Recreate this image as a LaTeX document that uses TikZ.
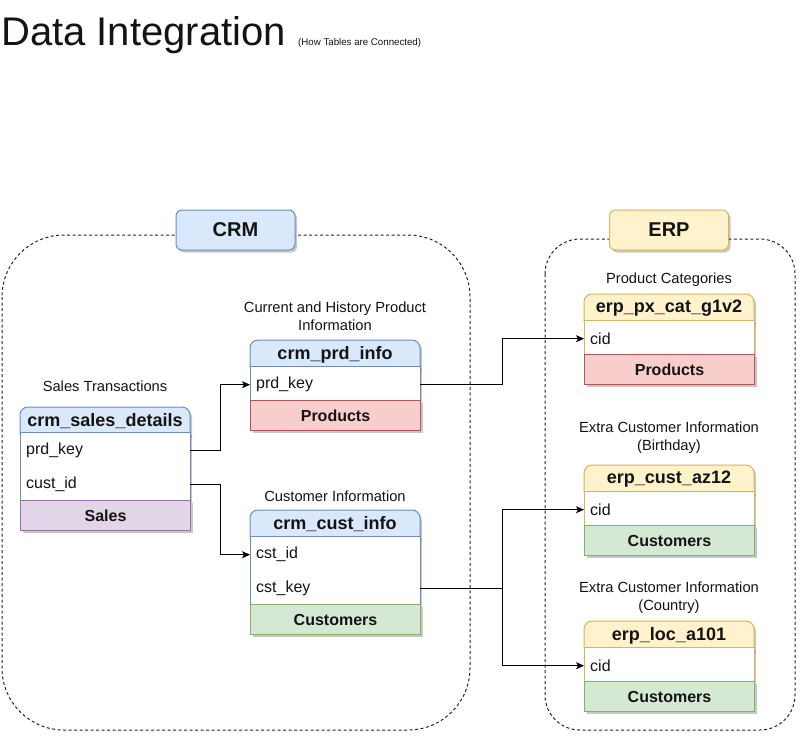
\documentclass[tikz,border=0pt]{standalone}
\usepackage{fontspec}
\setmainfont{Liberation Sans}
\usetikzlibrary{shadows,arrows.meta}

\definecolor{blueFill}{HTML}{DAE8FC}
\definecolor{blueDraw}{HTML}{6C8EBF}
\definecolor{yellowFill}{HTML}{FFF2CC}
\definecolor{yellowDraw}{HTML}{D6B656}
\definecolor{redFill}{HTML}{F8CECC}
\definecolor{redDraw}{HTML}{B85450}
\definecolor{greenFill}{HTML}{D5E8D4}
\definecolor{greenDraw}{HTML}{82B366}
\definecolor{purpleFill}{HTML}{E1D5E7}
\definecolor{purpleDraw}{HTML}{9673A6}
\definecolor{ink}{HTML}{141414}

\tikzset{
  boxshadow/.style={drop shadow={shadow xshift=2pt, shadow yshift=-2.5pt, opacity=0.22, fill=black}},
  headtext/.style={font=\fontsize{18}{20}\selectfont\bfseries, text=ink, inner sep=0pt},
  rowbox/.style={rectangle, anchor=north west, minimum width=170pt, minimum height=34pt,
    text width=158pt, inner xsep=6pt, inner ysep=0pt, align=left, yshift=-1.5pt,
    font=\fontsize{16}{18}\selectfont, text=ink},
  footbox/.style={rectangle, anchor=north west, minimum width=170pt, minimum height=30pt,
    inner sep=0pt, font=\fontsize{16}{18}\selectfont\bfseries, text=ink, boxshadow},
  caption/.style={font=\fontsize{14.7}{18}\selectfont, align=center, inner sep=0pt, text=ink},
  group/.style={draw=black!85, line width=1pt, dash pattern=on 3pt off 2.5pt},
  grouplabel/.style={rectangle, rounded corners=6pt, line width=1pt, minimum width=119pt,
    minimum height=40pt, inner sep=0pt, font=\fontsize{20}{22}\selectfont\bfseries, text=ink, boxshadow},
  conn/.style={draw=black, line width=1pt, -{Stealth[length=8pt,width=7pt,inset=2pt]}},
}

% header of a table: name, left, top, fill, border, title
\newcommand{\tblhead}[6]{%
  \filldraw[fill=#4, draw=#5, line width=1pt, rounded corners=8pt, boxshadow]
    (#2,#3+34) rectangle (#2+170,#3);
  \node[headtext] (#1) at (#2+85,#3+14.5) {#6};
}
% white body holding the rows: left, top, bottom, border
\newcommand{\tblbody}[4]{%
  \filldraw[fill=white, draw=#4, line width=1pt, boxshadow] (#1,#2) rectangle (#1+170,#3);
}

\begin{document}
\begin{tikzpicture}[x=1pt, y=-1pt]
\useasboundingbox[fill=white] (0,0) rectangle (806,742);

% title
\node[anchor=base west, inner sep=0pt, font=\fontsize{40}{44}\selectfont, text=ink]
  (title) at (1,45) {Data Integration};
\node[anchor=base west, inner sep=0pt, font=\fontsize{9.7}{11}\selectfont, text=ink]
  (subtitle) at (298,45) {(How Tables are Connected)};

% source-system groups
\draw[group, rounded corners=62pt] (2,235) rectangle (470,730);
\draw[group, rounded corners=35pt] (545,239) rectangle (795,730);
\node[grouplabel, fill=blueFill, draw=blueDraw] (crm) at (235.5,230) {CRM};
\node[grouplabel, fill=yellowFill, draw=yellowDraw] (erp) at (669,230) {ERP};

% ---------------- CRM tables ----------------
% crm_sales_details
\node[caption] (cap-sd) at (105,386) {Sales Transactions};
\tblhead{sd}{20}{407}{blueFill}{blueDraw}{crm\_sales\_details}
\tblbody{20}{432}{500}{blueDraw}
\node[rowbox] (sd-prd) at (20,432) {prd\_key};
\node[rowbox] (sd-cust) at (20,466) {cust\_id};
\node[footbox, fill=purpleFill, draw=purpleDraw, line width=1pt] (sd-foot) at (20,500) {Sales};

% crm_prd_info
\node[caption] (cap-pi) at (335,316) {Current and History Product\\Information};
\tblhead{pi}{250}{340}{blueFill}{blueDraw}{crm\_prd\_info}
\tblbody{250}{366}{400}{blueDraw}
\node[rowbox] (pi-prd) at (250,366) {prd\_key};
\node[footbox, fill=redFill, draw=redDraw, line width=1pt] (pi-foot) at (250,400) {Products};

% crm_cust_info
\node[caption] (cap-ci) at (335,496) {Customer Information};
\tblhead{ci}{250}{510}{blueFill}{blueDraw}{crm\_cust\_info}
\tblbody{250}{536}{604}{blueDraw}
\node[rowbox] (ci-id) at (250,536) {cst\_id};
\node[rowbox] (ci-key) at (250,570) {cst\_key};
\node[footbox, fill=greenFill, draw=greenDraw, line width=1pt] (ci-foot) at (250,604) {Customers};

% ---------------- ERP tables ----------------
% erp_px_cat_g1v2
\node[caption] (cap-cat) at (669,280) {Product Categories};
\tblhead{cat}{584}{294}{yellowFill}{yellowDraw}{erp\_px\_cat\_g1v2}
\tblbody{584}{320}{354}{yellowDraw}
\node[rowbox] (cat-cid) at (584,320) {cid};
\node[footbox, fill=redFill, draw=redDraw, line width=1pt] (cat-foot) at (584,354) {Products};

% erp_cust_az12
\node[caption] (cap-az) at (669,438) {Extra Customer Information\\(Birthday)};
\tblhead{az}{584}{465}{yellowFill}{yellowDraw}{erp\_cust\_az12}
\tblbody{584}{491}{525}{yellowDraw}
\node[rowbox] (az-cid) at (584,491) {cid};
\node[footbox, fill=greenFill, draw=greenDraw, line width=1pt] (az-foot) at (584,525) {Customers};

% erp_loc_a101
\node[caption] (cap-loc) at (669,598) {Extra Customer Information\\(Country)};
\tblhead{loc}{584}{621}{yellowFill}{yellowDraw}{erp\_loc\_a101}
\tblbody{584}{647}{681}{yellowDraw}
\node[rowbox] (loc-cid) at (584,647) {cid};
\node[footbox, fill=greenFill, draw=greenDraw, line width=1pt] (loc-foot) at (584,681) {Customers};

% ---------------- key relations ----------------
\draw[conn] (sd-prd.east) -- ++(30,0) |- (pi-prd.west);
\draw[conn] (sd-cust.east) -- ++(30,0) |- (ci-id.west);
\draw[conn] (pi-prd.east) -- ++(82,0) |- (cat-cid.west);
\draw[conn] (ci-key.east) -- ++(82,0) |- (az-cid.west);
\draw[conn] (ci-key.east) -- ++(82,0) |- (loc-cid.west);

\end{tikzpicture}
\end{document}
